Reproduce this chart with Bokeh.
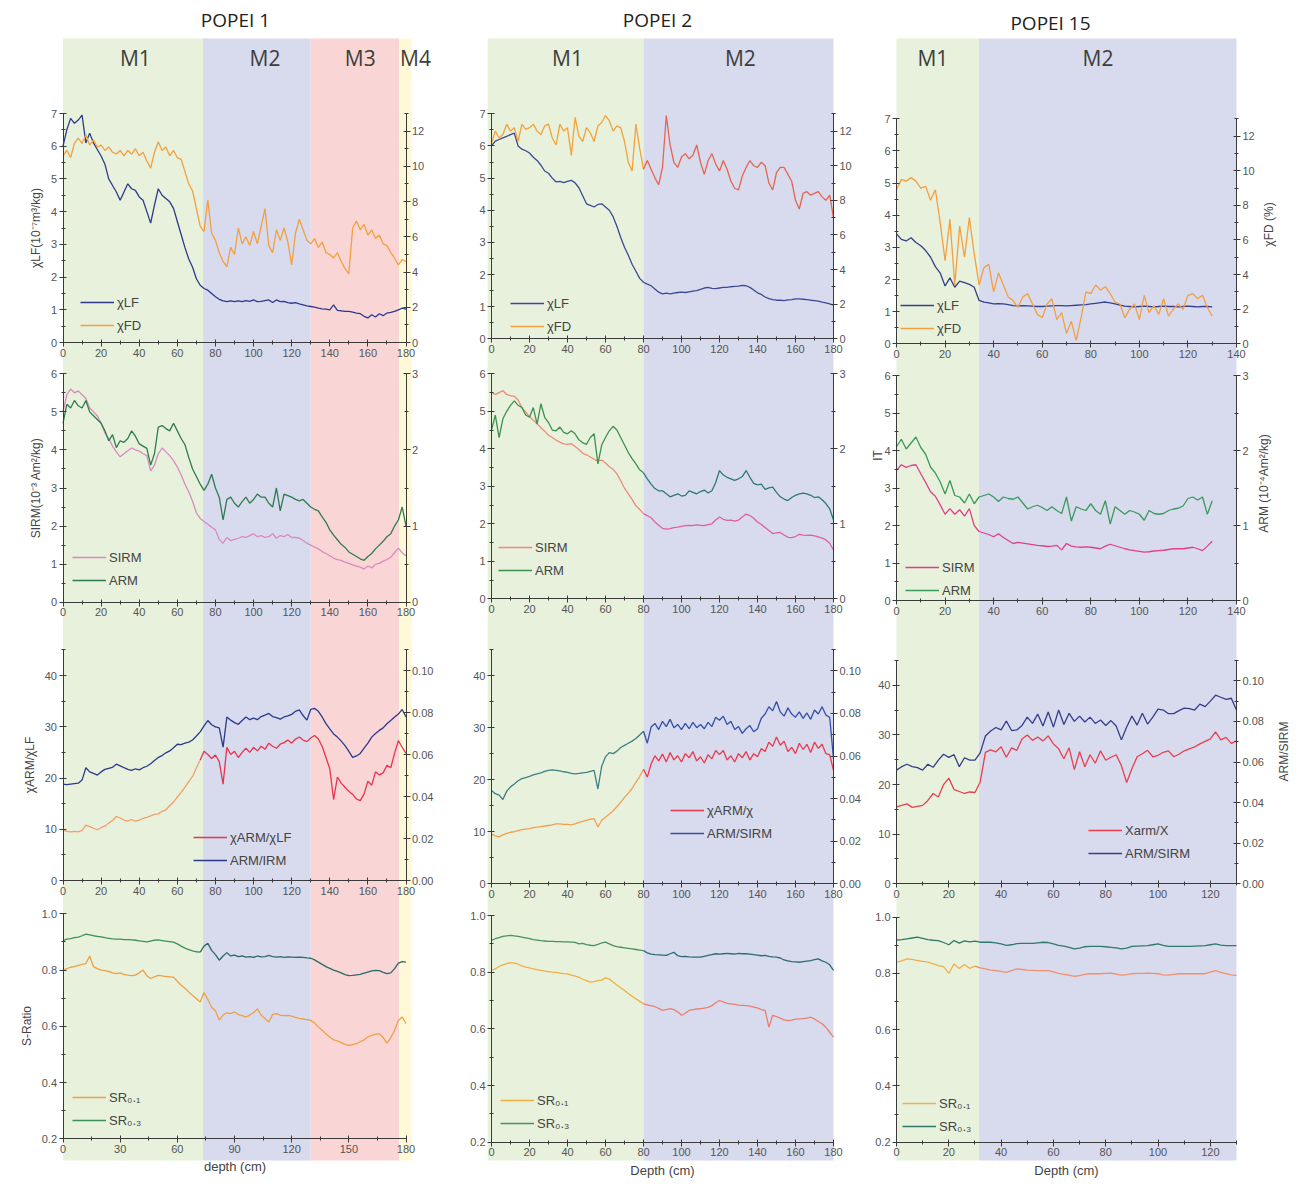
import math
from bokeh.plotting import figure
from bokeh.layouts import row
from bokeh.models import (Range1d, LinearAxis, SingleIntervalTicker, NumeralTickFormatter,
                          Label, Legend, LegendItem)
from bokeh.embed import file_html
from bokeh.resources import INLINE

# ---------------------------------------------------------------- data
# POPEI 1 core, sampled every 2 cm (0-180 cm)
P1_DEPTH = list(range(0, 181, 2))
P1_ZONES = ["M1", "M2", "M3", "M4"]
P1_ZONE_EDGES = [0, 73.5, 130, 176.5, 183]
P1_ZONE_LABEL_X = [38, 106, 156, 185]

P1_CHI_LF = [6.0, 6.5, 6.85, 6.7, 6.8, 6.95, 6.1, 6.4, 6.1, 5.9,
             5.7, 5.45, 5.0, 4.8, 4.6, 4.35, 4.6, 4.85, 4.7, 4.65,
             4.45, 4.35, 4.0, 3.65, 4.2, 4.7, 4.5, 4.4, 4.3, 4.1,
             3.7, 3.3, 2.9, 2.55, 2.3, 1.95, 1.75, 1.65, 1.6, 1.5,
             1.4, 1.32, 1.27, 1.25, 1.27, 1.25, 1.27, 1.25, 1.28, 1.26,
             1.3, 1.25, 1.26, 1.28, 1.3, 1.22, 1.3, 1.25, 1.26, 1.22,
             1.2, 1.22, 1.18, 1.15, 1.12, 1.1, 1.08, 1.05, 1.03, 1.02,
             1.0, 1.15, 0.98, 0.97, 0.95, 0.95, 0.93, 0.9, 0.88, 0.8,
             0.75, 0.85, 0.78, 0.88, 0.82, 0.9, 0.92, 0.95, 1.0, 1.05,
             1.02]
P1_CHI_FD = [10.6, 10.9, 10.5, 11.3, 11.6, 11.3, 11.8, 11.2, 11.5, 11.1,
             11.2, 10.9, 11.1, 10.8, 10.7, 10.9, 10.6, 10.9, 10.7, 11.0,
             10.6, 10.8, 10.3, 9.9, 10.8, 11.4, 10.9, 11.1, 10.6, 10.9,
             10.5, 10.4, 9.7, 9.0, 8.6, 7.6, 6.6, 6.3, 8.1, 6.2,
             5.8, 5.1, 4.6, 4.3, 5.4, 5.0, 6.5, 5.6, 6.0, 5.5,
             6.3, 5.6, 6.6, 7.6, 5.5, 5.1, 6.4, 5.8, 6.5, 5.7,
             4.4, 6.2, 7.0, 6.4, 5.8, 5.6, 5.9, 5.4, 5.7, 5.1,
             5.0, 4.8, 5.1, 4.6, 4.2, 3.9, 6.5, 6.9, 6.4, 6.7,
             6.1, 6.4, 5.9, 6.1, 5.6, 5.5, 5.1, 4.8, 4.4, 4.7,
             4.6]
P1_SIRM = [5.0, 5.45, 5.6, 5.5, 5.55, 5.45, 5.35, 5.1, 5.0, 4.9,
           4.7, 4.45, 4.3, 4.1, 3.95, 3.82, 3.9, 3.98, 4.05, 4.0,
           3.97, 3.9, 3.85, 3.45, 3.6, 3.9, 4.05, 3.95, 3.85, 3.72,
           3.55, 3.35, 3.1, 2.9, 2.65, 2.35, 2.2, 2.12, 2.05, 1.97,
           1.9, 1.65, 1.55, 1.7, 1.62, 1.65, 1.68, 1.72, 1.7, 1.75,
           1.8, 1.72, 1.75, 1.7, 1.72, 1.8, 1.68, 1.75, 1.72, 1.78,
           1.7, 1.7, 1.68, 1.62, 1.55, 1.5, 1.45, 1.4, 1.33, 1.28,
           1.22, 1.16, 1.12, 1.1, 1.05, 1.02, 0.98, 0.95, 0.92, 0.87,
           0.95, 0.9, 1.0, 1.02, 1.08, 1.12, 1.18, 1.3, 1.42, 1.3,
           1.22]
P1_ARM = [2.35, 2.6, 2.55, 2.65, 2.58, 2.55, 2.65, 2.5, 2.45, 2.4,
          2.35, 2.25, 2.12, 2.2, 2.03, 2.12, 2.1, 2.15, 2.25, 2.18,
          2.08, 2.05, 2.02, 1.8, 1.95, 2.3, 2.32, 2.28, 2.25, 2.35,
          2.25, 2.15, 2.07, 1.9, 1.75, 1.65, 1.55, 1.47, 1.55, 1.68,
          1.5, 1.38, 1.08, 1.35, 1.38, 1.3, 1.25, 1.32, 1.38, 1.3,
          1.35, 1.42, 1.38, 1.38, 1.3, 1.25, 1.5, 1.2, 1.42, 1.4,
          1.38, 1.35, 1.33, 1.35, 1.3, 1.25, 1.22, 1.2, 1.12, 1.05,
          0.95, 0.88, 0.82, 0.76, 0.72, 0.66, 0.63, 0.6, 0.57, 0.55,
          0.6, 0.64, 0.7, 0.75, 0.8, 0.86, 0.9, 1.0, 1.08, 1.25,
          1.0]
P1_CHIARM_CHILF = [9.8, 9.6, 9.5, 9.6, 9.5, 9.8, 10.8, 10.5, 10.2, 9.9,
                   10.3, 10.6, 11.2, 11.7, 12.5, 12.2, 11.8, 11.6, 11.9, 11.6,
                   11.8, 12.1, 12.3, 12.6, 12.9, 13.0, 13.5, 13.8, 14.6, 15.3,
                   16.3, 17.2, 18.2, 19.3, 20.3, 22.0, 23.5, 25.2, 24.6, 23.8,
                   24.5, 23.2, 18.8, 26.0, 24.6, 25.2, 24.0, 25.0, 25.8, 25.0,
                   26.0, 25.3, 26.2, 25.6, 26.8, 26.2, 25.8, 26.6, 26.9, 27.4,
                   26.8, 27.6, 28.0, 27.4, 27.1, 27.8, 28.3, 27.6, 26.2, 24.0,
                   21.8, 15.8, 20.2, 19.0, 18.2, 17.4, 16.8, 15.9, 15.6, 16.9,
                   19.4, 18.6, 21.2, 20.6, 21.0, 22.5, 22.0, 24.8, 27.3, 26.0,
                   24.8]
P1_ARM_IRM = [0.0460, 0.0457, 0.0460, 0.0462, 0.0464, 0.0479, 0.0538, 0.0518, 0.0511, 0.0503,
              0.0518, 0.0530, 0.0535, 0.0540, 0.0555, 0.0547, 0.0538, 0.0530, 0.0525, 0.0533,
              0.0528, 0.0538, 0.0545, 0.0557, 0.0572, 0.0587, 0.0596, 0.0609, 0.0618, 0.0633,
              0.0650, 0.0648, 0.0655, 0.0660, 0.0670, 0.0689, 0.0709, 0.0738, 0.0763, 0.0743,
              0.0733, 0.0728, 0.0636, 0.0780, 0.0765, 0.0753, 0.0745, 0.0763, 0.0780, 0.0767,
              0.0775, 0.0767, 0.0782, 0.0789, 0.0797, 0.0782, 0.0777, 0.0770, 0.0780, 0.0785,
              0.0792, 0.0807, 0.0814, 0.0787, 0.0765, 0.0816, 0.0821, 0.0807, 0.0780, 0.0748,
              0.0723, 0.0699, 0.0684, 0.0665, 0.0643, 0.0616, 0.0587, 0.0594, 0.0606, 0.0631,
              0.0655, 0.0684, 0.0701, 0.0716, 0.0728, 0.0748, 0.0763, 0.0780, 0.0794, 0.0816,
              0.0780]
P1_SR01 = [0.8, 0.805, 0.81, 0.812, 0.817, 0.82, 0.823, 0.85, 0.812, 0.805,
           0.8, 0.798, 0.795, 0.79, 0.787, 0.79, 0.785, 0.782, 0.78, 0.782,
           0.79, 0.8, 0.78, 0.77, 0.776, 0.781, 0.779, 0.777, 0.776, 0.775,
           0.76, 0.746, 0.735, 0.722, 0.71, 0.698, 0.686, 0.72, 0.695, 0.668,
           0.655, 0.622, 0.64, 0.648, 0.645, 0.651, 0.642, 0.638, 0.633, 0.64,
           0.648, 0.662, 0.64, 0.628, 0.615, 0.642, 0.645, 0.64, 0.638, 0.639,
           0.636, 0.632, 0.628, 0.626, 0.624, 0.621, 0.612, 0.598, 0.586, 0.573,
           0.562, 0.552, 0.548, 0.542, 0.536, 0.532, 0.535, 0.538, 0.545, 0.552,
           0.562, 0.568, 0.572, 0.574, 0.56, 0.54, 0.56, 0.585, 0.621, 0.633,
           0.61]
P1_SR03 = [0.905, 0.91, 0.912, 0.915, 0.917, 0.922, 0.928, 0.925, 0.922, 0.92,
           0.918, 0.915, 0.913, 0.911, 0.91, 0.91, 0.908, 0.908, 0.907, 0.906,
           0.904, 0.902, 0.9, 0.903, 0.906, 0.907, 0.905, 0.903, 0.901, 0.899,
           0.893, 0.885, 0.878, 0.873, 0.868, 0.865, 0.864, 0.885, 0.895, 0.87,
           0.855, 0.835, 0.85, 0.862, 0.85, 0.853, 0.848, 0.85, 0.846, 0.848,
           0.845, 0.85, 0.847, 0.848, 0.852, 0.848, 0.846, 0.848, 0.845, 0.847,
           0.846, 0.845, 0.846, 0.845, 0.843, 0.842, 0.836, 0.828, 0.82, 0.812,
           0.806, 0.8, 0.795, 0.79, 0.784, 0.78, 0.781, 0.783, 0.785, 0.789,
           0.793, 0.797, 0.799, 0.798, 0.792, 0.787, 0.79, 0.805, 0.825, 0.83,
           0.828]

# POPEI 2 core, sampled every 2 cm (0-180 cm)
P2_DEPTH = list(range(0, 181, 2))
P2_ZONES = ["M1", "M2"]
P2_ZONE_EDGES = [-2, 80, 180]
P2_ZONE_LABEL_X = [40, 131]

P2_CHI_LF = [6.0, 6.15, 6.2, 6.25, 6.3, 6.35, 6.4, 6.0, 5.9, 5.85,
             5.78, 5.65, 5.55, 5.4, 5.22, 5.15, 5.0, 4.88, 4.9, 4.86,
             4.9, 4.93, 4.85, 4.7, 4.45, 4.2, 4.15, 4.1, 4.18, 4.2,
             4.1, 4.0, 3.8, 3.5, 3.15, 2.85, 2.6, 2.32, 2.1, 1.88,
             1.76, 1.7, 1.65, 1.55, 1.45, 1.4, 1.42, 1.4, 1.42, 1.44,
             1.45, 1.44, 1.46, 1.48, 1.5, 1.54, 1.58, 1.6, 1.57, 1.56,
             1.58, 1.6, 1.6, 1.62, 1.63, 1.64, 1.66, 1.65, 1.6, 1.52,
             1.43, 1.38, 1.3, 1.25, 1.22, 1.2, 1.2, 1.19, 1.21, 1.22,
             1.24, 1.24, 1.23, 1.22, 1.2, 1.19, 1.17, 1.14, 1.12, 1.09,
             1.05]
P2_CHI_FD = [11.3, 12.0, 11.6, 11.8, 12.4, 12.0, 12.2, 11.4, 12.4, 12.1,
             12.2, 12.4, 12.0, 11.8, 12.3, 12.4, 11.6, 11.2, 12.4, 12.0,
             12.2, 10.6, 12.8, 11.7, 11.4, 12.2, 11.9, 11.4, 12.3, 12.5,
             12.9, 12.6, 12.0, 12.3, 12.2, 11.4, 10.2, 9.7, 12.4, 11.0,
             9.8, 10.3, 9.8, 9.3, 8.9, 9.9, 12.9, 11.2, 10.2, 9.9,
             10.5, 10.7, 10.4, 10.6, 11.2, 10.2, 9.5, 10.3, 10.7, 10.1,
             9.7, 10.3, 9.8, 9.1, 8.7, 8.6, 9.4, 9.9, 10.3, 10.0,
             9.9, 10.2, 10.0, 9.0, 8.6, 9.6, 9.9, 9.9, 9.5, 9.1,
             8.0, 7.5, 8.4, 8.5, 8.3, 8.4, 8.5, 8.2, 8.0, 8.3,
             7.0]
P2_SIRM = [5.5, 5.45, 5.5, 5.55, 5.45, 5.42, 5.4, 5.3, 5.1, 4.98,
           4.86, 4.76, 4.67, 4.56, 4.47, 4.36, 4.3, 4.23, 4.18, 4.13,
           4.12, 4.14, 4.06, 3.98, 3.88, 3.84, 3.78, 3.72, 3.68, 3.7,
           3.62, 3.52, 3.45, 3.33, 3.15, 2.95, 2.8, 2.65, 2.48, 2.38,
           2.27, 2.22, 2.16, 2.05, 1.96, 1.88, 1.86, 1.87, 1.9, 1.91,
           1.93, 1.95, 1.96, 1.95, 1.97, 1.96, 1.95, 1.98, 2.0, 2.1,
           2.18, 2.12, 2.09, 2.1, 2.07, 2.1, 2.18, 2.26, 2.22, 2.15,
           2.05, 1.98, 1.9, 1.82, 1.74, 1.76, 1.77, 1.7, 1.64, 1.63,
           1.66, 1.72, 1.7, 1.69, 1.7, 1.68, 1.65, 1.62, 1.57, 1.48,
           1.3]
P2_ARM = [2.25, 2.45, 2.15, 2.4, 2.5, 2.58, 2.64, 2.58, 2.55, 2.45,
          2.42, 2.55, 2.33, 2.6, 2.42, 2.35, 2.25, 2.24, 2.29, 2.22,
          2.2, 2.24, 2.2, 2.12, 2.08, 2.06, 2.15, 2.2, 1.8, 2.05,
          2.15, 2.24, 2.3, 2.25, 2.15, 2.05, 1.95, 1.87, 1.8, 1.72,
          1.68, 1.6, 1.53, 1.47, 1.44, 1.44, 1.4, 1.36, 1.38, 1.4,
          1.37, 1.38, 1.44, 1.42, 1.4, 1.43, 1.45, 1.41, 1.44, 1.55,
          1.71, 1.65, 1.62, 1.6, 1.58, 1.6, 1.63, 1.71, 1.62, 1.54,
          1.52, 1.53, 1.46, 1.48, 1.49, 1.42, 1.36, 1.33, 1.31, 1.35,
          1.38, 1.4, 1.41, 1.4, 1.38, 1.35, 1.36, 1.32, 1.27, 1.2,
          1.05]
P2_CHIARM_CHI = [9.6, 9.2, 9.0, 9.4, 9.7, 9.9, 10.0, 10.2, 10.4, 10.5,
                 10.6, 10.8, 10.9, 11.0, 11.1, 11.2, 11.3, 11.5, 11.5, 11.4,
                 11.4, 11.3, 11.5, 11.8, 12.0, 12.2, 12.4, 12.5, 10.9, 12.2,
                 12.8, 13.4, 14.0, 14.8, 15.7, 16.6, 17.4, 18.3, 19.5, 20.6,
                 22.0, 20.5, 23.0, 24.6, 23.6, 24.9, 23.4, 25.2, 23.8, 24.6,
                 23.4, 25.0, 24.2, 25.4, 23.6, 24.4, 23.2, 24.8, 24.0, 25.6,
                 24.8, 25.6, 23.8, 24.6, 23.4, 25.0, 24.2, 25.4, 23.8, 25.0,
                 24.4, 26.0, 25.4, 27.2, 26.4, 28.2, 26.6, 27.4, 25.4, 26.2,
                 25.0, 27.0, 25.8, 26.8, 25.2, 27.2, 26.0, 26.8, 25.0, 24.8,
                 21.8]
P2_ARM_SIRM = [0.0438, 0.0423, 0.0416, 0.0396, 0.0435, 0.0455, 0.0469, 0.0484, 0.0494, 0.0499,
               0.0504, 0.0511, 0.0516, 0.0521, 0.0528, 0.0533, 0.0535, 0.0533, 0.0530, 0.0526,
               0.0523, 0.0518, 0.0516, 0.0518, 0.0521, 0.0523, 0.0528, 0.0533, 0.0445, 0.0552,
               0.0596, 0.0616, 0.0611, 0.0623, 0.0640, 0.0650, 0.0660, 0.0670, 0.0682, 0.0699,
               0.0716, 0.0660, 0.0736, 0.0753, 0.0724, 0.0763, 0.0738, 0.0772, 0.0733, 0.0748,
               0.0724, 0.0753, 0.0728, 0.0758, 0.0733, 0.0748, 0.0728, 0.0758, 0.0738, 0.0782,
               0.0768, 0.0787, 0.0748, 0.0763, 0.0724, 0.0738, 0.0706, 0.0728, 0.0743, 0.0714,
               0.0728, 0.0777, 0.0797, 0.0831, 0.0812, 0.0856, 0.0807, 0.0787, 0.0826, 0.0797,
               0.0782, 0.0807, 0.0777, 0.0802, 0.0772, 0.0816, 0.0797, 0.0831, 0.0792, 0.0782,
               0.0587]
P2_SR01 = [0.806, 0.812, 0.82, 0.826, 0.83, 0.834, 0.832, 0.828, 0.822, 0.818,
           0.815, 0.812, 0.809, 0.806, 0.804, 0.802, 0.8, 0.799, 0.797, 0.795,
           0.794, 0.79, 0.786, 0.782, 0.775, 0.77, 0.765, 0.767, 0.77, 0.772,
           0.78, 0.776, 0.765, 0.755, 0.745, 0.735, 0.725, 0.715, 0.706, 0.697,
           0.688, 0.685, 0.682, 0.678, 0.672, 0.665, 0.668, 0.671, 0.668, 0.66,
           0.648, 0.655, 0.665, 0.668, 0.67, 0.671, 0.673, 0.676, 0.682, 0.692,
           0.7, 0.695, 0.69, 0.688, 0.686, 0.684, 0.683, 0.682, 0.68, 0.677,
           0.674, 0.668, 0.665, 0.606, 0.648, 0.643, 0.638, 0.632, 0.629, 0.631,
           0.634, 0.635, 0.636, 0.638, 0.641, 0.635, 0.626, 0.618, 0.605, 0.588,
           0.571]
P2_SR03 = [0.912, 0.918, 0.922, 0.926, 0.928, 0.93, 0.928, 0.926, 0.924, 0.921,
           0.918, 0.915, 0.913, 0.911, 0.91, 0.909, 0.909, 0.908, 0.908, 0.907,
           0.907, 0.906, 0.905, 0.9, 0.902, 0.897, 0.895, 0.894, 0.898, 0.903,
           0.906, 0.9, 0.894, 0.89, 0.888, 0.886, 0.884, 0.882, 0.88, 0.878,
           0.876, 0.868, 0.864, 0.862, 0.861, 0.86, 0.859, 0.865, 0.87, 0.858,
           0.855, 0.856, 0.854, 0.853, 0.853, 0.853, 0.856, 0.859, 0.862, 0.865,
           0.864, 0.865, 0.866, 0.865, 0.864, 0.866, 0.865, 0.865, 0.864, 0.862,
           0.86, 0.858, 0.859, 0.856, 0.854, 0.853, 0.85, 0.843, 0.84, 0.837,
           0.836, 0.835, 0.837, 0.839, 0.841, 0.844, 0.847, 0.84, 0.835, 0.826,
           0.806]

# POPEI 15 core, sampled every 2 cm (0-130 cm)
P15_DEPTH = list(range(0, 131, 2))
P15_ZONES = ["M1", "M2"]
P15_ZONE_EDGES = [0, 34, 140]
P15_ZONE_LABEL_X = [15, 83]

P15_CHI_LF = [3.42, 3.25, 3.2, 3.3, 3.15, 3.05, 2.9, 2.7, 2.4, 2.2,
              1.8, 2.05, 1.76, 1.95, 1.9, 1.85, 1.76, 1.35, 1.3, 1.27,
              1.24, 1.25, 1.24, 1.22, 1.19, 1.18, 1.19, 1.18, 1.17, 1.16,
              1.16, 1.17, 1.18, 1.19, 1.19, 1.18, 1.19, 1.2, 1.21, 1.22,
              1.24, 1.26, 1.28, 1.3, 1.27, 1.24, 1.2, 1.17, 1.16, 1.15,
              1.16, 1.17, 1.16, 1.15, 1.16, 1.17, 1.16, 1.16, 1.15, 1.16,
              1.17, 1.16, 1.15, 1.16, 1.16, 1.15]
P15_CHI_FD = [8.9, 9.5, 9.4, 9.6, 9.4, 9.0, 9.1, 8.3, 8.9, 7.0,
              4.8, 7.2, 3.4, 6.8, 5.0, 7.3, 5.2, 3.4, 4.4, 4.6,
              3.0, 4.1, 3.4, 2.7, 2.5, 2.1, 2.7, 2.9, 2.3, 1.7,
              1.5, 2.3, 2.6, 1.4, 1.8, 0.6, 1.3, 0.2, 1.5, 3.0,
              2.9, 3.4, 3.1, 3.3, 2.9, 2.4, 2.3, 1.5, 2.0, 2.3,
              1.4, 2.8, 1.8, 2.2, 1.7, 2.6, 1.6, 2.0, 2.3, 2.0,
              2.8, 2.9, 2.6, 2.8, 2.1, 1.6]
P15_SIRM = [3.47, 3.62, 3.55, 3.6, 3.62, 3.38, 3.15, 2.9, 2.78, 2.55,
            2.3, 2.45, 2.3, 2.42, 2.25, 2.45, 2.0, 1.84, 1.8, 1.76,
            1.7, 1.78, 1.68, 1.6, 1.52, 1.55, 1.53, 1.51, 1.49, 1.47,
            1.46, 1.44, 1.45, 1.47, 1.35, 1.52, 1.45, 1.43, 1.42, 1.43,
            1.42, 1.4, 1.38, 1.45, 1.5, 1.46, 1.42, 1.38, 1.35, 1.33,
            1.31, 1.29, 1.3, 1.32, 1.33, 1.34, 1.36, 1.38, 1.38, 1.38,
            1.4, 1.42, 1.38, 1.33, 1.45, 1.58]
P15_ARM = [2.05, 2.15, 2.02, 2.1, 2.18, 2.04, 1.95, 1.78, 1.7, 1.58,
           1.42, 1.6, 1.4, 1.38, 1.3, 1.42, 1.29, 1.38, 1.4, 1.42,
           1.38, 1.32, 1.38, 1.36, 1.35, 1.38, 1.3, 1.22, 1.25, 1.27,
           1.24, 1.2, 1.25, 1.2, 1.16, 1.38, 1.06, 1.25, 1.22, 1.2,
           1.29, 1.2, 1.15, 1.33, 1.02, 1.25, 1.2, 1.15, 1.2, 1.18,
           1.15, 1.07, 1.2, 1.16, 1.15, 1.16, 1.2, 1.22, 1.23, 1.26,
           1.36, 1.38, 1.34, 1.38, 1.15, 1.33]
P15_CHIARM_CHI = [15.5, 15.8, 16.1, 15.4, 15.6, 15.8, 16.8, 18.2, 17.5, 20.0,
                  21.3, 19.0, 18.6, 18.2, 18.5, 18.4, 20.5, 26.5, 27.0, 26.6,
                  27.6, 25.5, 27.4, 26.9, 29.2, 30.0, 28.9, 29.6, 28.8, 29.8,
                  28.2, 27.2, 25.2, 27.4, 23.0, 26.6, 23.6, 26.0, 24.3, 26.8,
                  24.9, 25.5, 26.0, 23.8, 20.4, 23.2, 25.6, 26.2, 26.9, 25.6,
                  25.9, 26.5, 26.8, 25.6, 26.1, 26.8, 27.2, 27.6, 28.2, 28.7,
                  29.2, 30.6, 29.0, 29.5, 28.3, 28.8]
P15_ARM_SIRM = [0.0560, 0.0577, 0.0589, 0.0577, 0.0572, 0.0560, 0.0589, 0.0574, 0.0609, 0.0638,
                0.0623, 0.0636, 0.0577, 0.0621, 0.0609, 0.0609, 0.0645, 0.0728, 0.0753, 0.0770,
                0.0758, 0.0802, 0.0755, 0.0758, 0.0780, 0.0821, 0.0790, 0.0836, 0.0777, 0.0846,
                0.0772, 0.0856, 0.0785, 0.0840, 0.0800, 0.0826, 0.0797, 0.0821, 0.0790, 0.0807,
                0.0780, 0.0804, 0.0777, 0.0709, 0.0772, 0.0826, 0.0782, 0.0840, 0.0787, 0.0821,
                0.0860, 0.0856, 0.0838, 0.0838, 0.0853, 0.0865, 0.0863, 0.0856, 0.0885, 0.0873,
                0.0900, 0.0929, 0.0919, 0.0909, 0.0914, 0.0856]
P15_SR01 = [0.84, 0.845, 0.852, 0.85, 0.846, 0.843, 0.84, 0.834, 0.828, 0.824,
            0.8, 0.834, 0.818, 0.832, 0.818, 0.826, 0.82, 0.816, 0.812, 0.81,
            0.807, 0.804, 0.81, 0.816, 0.814, 0.812, 0.811, 0.81, 0.81, 0.81,
            0.806, 0.8, 0.797, 0.794, 0.79, 0.792, 0.797, 0.799, 0.799, 0.799,
            0.8, 0.801, 0.798, 0.794, 0.796, 0.799, 0.8, 0.8, 0.801, 0.8,
            0.799, 0.795, 0.794, 0.797, 0.799, 0.799, 0.799, 0.799, 0.799, 0.799,
            0.805, 0.81, 0.804, 0.799, 0.795, 0.793]
P15_SR03 = [0.919, 0.92, 0.923, 0.926, 0.929, 0.925, 0.92, 0.918, 0.917, 0.91,
            0.902, 0.917, 0.908, 0.916, 0.912, 0.915, 0.911, 0.911, 0.911, 0.909,
            0.905, 0.9, 0.902, 0.906, 0.907, 0.907, 0.907, 0.909, 0.911, 0.91,
            0.905, 0.9, 0.897, 0.893, 0.887, 0.89, 0.895, 0.896, 0.896, 0.896,
            0.895, 0.893, 0.891, 0.887, 0.89, 0.896, 0.897, 0.898, 0.899, 0.902,
            0.905, 0.9, 0.896, 0.896, 0.896, 0.896, 0.896, 0.897, 0.898, 0.899,
            0.902, 0.905, 0.901, 0.899, 0.899, 0.899]

# ---------------------------------------------------------------- look
H = 1192                          # canvas height of every column
BAND_TOP, BAND_BOTTOM = 38, 1160  # vertical extent of the zone shading (px from top)
FONT = "Liberation Sans"
HEAD_FONT = "Open Sans"
AXIS_COLOR = "#3a3a3a"
TICK_TEXT = "#555555"
ZONE_COLORS = {"M1": "#e8f1dc", "M2": "#d8daed", "M3": "#fad5d6", "M4": "#fff9d8"}

# shared scales of the four rows (left axis, right axis)
ROW_SCALES = [
    {"left": (0, 7), "right": (0, 13), "lstep": 1, "rstep": 2, "lfmt": "0", "rfmt": "0"},
    {"left": (0, 6), "right": (0, 3), "lstep": 1, "rstep": 1, "lfmt": "0", "rfmt": "0"},
    {"left": (0, 45), "right": (0, 0.11), "lstep": 10, "rstep": 0.02, "lfmt": "0", "rfmt": "0.00"},
    {"left": (0.2, 1.0), "right": None, "lstep": 0.2, "rstep": None, "lfmt": "0.0", "rfmt": None},
]


def ser(y, axis, colors, label, cut=None, key=0):
    return {"y": y, "axis": axis, "colors": colors, "label": label, "cut": cut, "key": key}


COLUMNS = [
    {
        "title": "POPEI 1", "title_px": (235, 19), "width": 450,
        "x_px": (62.5, 405.5), "xmax": 180, "alt_xmax": None,
        "zones": P1_ZONES, "edges": P1_ZONE_EDGES, "zone_label_x": P1_ZONE_LABEL_X,
        "depth": P1_DEPTH, "side_labels": [],
        "rows": [
            {"px": (342, 113), "x": "default", "xend": 180, "xstep": 20, "legend": (80, 302),
             "llabel": "χLF(10⁻⁷m³/kg)",
             "series": [ser(P1_CHI_LF, "L", ("#2d3a8c",), "χLF"),
                        ser(P1_CHI_FD, "R", ("#f3a03e",), "χFD")]},
            {"px": (601.7, 373.3), "x": "default", "xend": 180, "xstep": 20, "legend": (72, 557),
             "llabel": "SIRM(10⁻³ Am²/kg)",
             "series": [ser(P1_SIRM, "L", ("#d88cbe",), "SIRM"),
                        ser(P1_ARM, "R", ("#2e7d4f",), "ARM")]},
            {"px": (880, 649.4), "x": "default", "xend": 180, "xstep": 20, "legend": (193, 837),
             "llabel": "χARM/χLF",
             "series": [ser(P1_CHIARM_CHILF, "L", ("#f2a06a", "#e8344e"), "χARM/χLF", cut=73.5, key=1),
                        ser(P1_ARM_IRM, "R", ("#2b3a8a",), "ARM/IRM")]},
            {"px": (1138.3, 913.3), "x": "default", "xend": 180, "xstep": 30, "legend": (72, 1097),
             "llabel": "S-Ratio", "xlabel": "depth (cm)",
             "series": [ser(P1_SR01, "L", ("#eea046",), "SR₀.₁"),
                        ser(P1_SR03, "L", ("#3f8f5a", "#2f6a66"), "SR₀.₃", cut=73.5)]},
        ],
    },
    {
        "title": "POPEI 2", "title_px": (657, 19), "width": 420,
        "x_px": (41, 383), "xmax": 180, "alt_xmax": None,
        "zones": P2_ZONES, "edges": P2_ZONE_EDGES, "zone_label_x": P2_ZONE_LABEL_X,
        "depth": P2_DEPTH, "side_labels": [],
        "rows": [
            {"px": (338.3, 113.3), "x": "default", "xend": 180, "xstep": 20, "legend": (510, 303),
             "series": [ser(P2_CHI_LF, "L", ("#3b4a92",), "χLF"),
                        ser(P2_CHI_FD, "R", ("#f4a23a", "#e5654f"), "χFD", cut=80)]},
            {"px": (598.3, 373.3), "x": "default", "xend": 180, "xstep": 20, "legend": (498, 547),
             "series": [ser(P2_SIRM, "L", ("#ef8c78", "#e0609e"), "SIRM", cut=80),
                        ser(P2_ARM, "R", ("#3d9050", "#2f7a6e"), "ARM", cut=80)]},
            {"px": (883.3, 649), "x": "default", "xend": 180, "xstep": 20, "legend": (670, 810),
             "series": [ser(P2_CHIARM_CHI, "L", ("#f2a050", "#e83a4a"), "χARM/χ", cut=80, key=1),
                        ser(P2_ARM_SIRM, "R", ("#3f7f86", "#3450a6"), "ARM/SIRM", cut=80, key=1)]},
            {"px": (1141.7, 915), "x": "default", "xend": 180, "xstep": 20, "legend": (500, 1100),
             "xlabel": "Depth (cm)",
             "series": [ser(P2_SR01, "L", ("#f0b040", "#ec7f70"), "SR₀.₁", cut=80),
                        ser(P2_SR03, "L", ("#4a9060", "#2f6a7a"), "SR₀.₃", cut=80)]},
        ],
    },
    {
        "title": "POPEI 15", "title_px": (1050, 22), "width": 433,
        "x_px": (26, 366), "xmax": 140, "alt_xmax": 130,
        "zones": P15_ZONES, "edges": P15_ZONE_EDGES, "zone_label_x": P15_ZONE_LABEL_X,
        "depth": P15_DEPTH,
        "side_labels": [("χFD (%)", 1268, 224), ("IT", 877, 455),
                        ("ARM (10⁻⁴Am²/kg)", 1263, 483), ("ARM/SIRM", 1283, 751)],
        "rows": [
            {"px": (343.3, 118.3), "x": "default", "xend": 140, "xstep": 20, "legend": (900, 305),
             "series": [ser(P15_CHI_LF, "L", ("#34408c",), "χLF"),
                        ser(P15_CHI_FD, "R", ("#f3a043",), "χFD")]},
            {"px": (600, 375), "x": "default", "xend": 140, "xstep": 20, "legend": (905, 567),
             "series": [ser(P15_SIRM, "L", ("#e0408a",), "SIRM"),
                        ser(P15_ARM, "R", ("#3a9a5a",), "ARM")]},
            {"px": (883.3, 660), "x": "alt", "xend": 130, "xstep": 20, "legend": (1088, 830),
             "series": [ser(P15_CHIARM_CHI, "L", ("#e8404f",), "Xarm/X"),
                        ser(P15_ARM_SIRM, "R", ("#343e8a",), "ARM/SIRM")]},
            {"px": (1141.7, 916.7), "x": "alt", "xend": 130, "xstep": 20, "legend": (902, 1103),
             "xlabel": "Depth (cm)",
             "series": [ser(P15_SR01, "L", ("#f0b050", "#f2906a"), "SR₀.₁", cut=31),
                        ser(P15_SR03, "L", ("#2f7a68",), "SR₀.₃")]},
        ],
    },
]


# ---------------------------------------------------------------- helpers
def pixel_range(vmin, vmax, ybot, ytop):
    """Range whose vmin..vmax span sits between the given rows of the canvas."""
    b, t = H - ybot, H - ytop
    s = (vmax - vmin) / (t - b)
    return Range1d(vmin - b * s, vmin + (H - b) * s)


def style_axis(ax, label=None):
    ax.axis_line_color = AXIS_COLOR
    ax.major_tick_line_color = AXIS_COLOR
    ax.minor_tick_line_color = AXIS_COLOR
    ax.major_tick_in = 3
    ax.major_tick_out = 4
    ax.minor_tick_in = 2
    ax.minor_tick_out = 2
    ax.major_label_text_font = FONT
    ax.major_label_text_font_size = "11px"
    ax.major_label_text_color = TICK_TEXT
    ax.major_label_standoff = 2
    if label:
        ax.axis_label = label
        ax.axis_label_text_font = FONT
        ax.axis_label_text_font_size = "12px"
        ax.axis_label_text_font_style = "normal"
        ax.axis_label_text_color = "#444444"
        ax.axis_label_standoff = 5
    return ax


def draw_series(p, x, y, colors, cut, **kw):
    if len(x) != len(y):
        raise ValueError("series length %d does not match depth length %d" % (len(y), len(x)))
    if cut is None or len(colors) == 1:
        return [p.line(x, y, line_color=colors[0], line_width=1.3, **kw)]
    i = max(k for k, v in enumerate(x) if v <= cut)
    r1 = p.line(x[:i + 1], y[:i + 1], line_color=colors[0], line_width=1.3, **kw)
    r2 = p.line(x[i:], y[i:], line_color=colors[1], line_width=1.3, **kw)
    return [r1, r2]


def build_column(col, offset):
    w = col["width"]
    x0, x1 = col["x_px"]
    sx = (x1 - x0) / col["xmax"]
    p = figure(width=w, height=H, x_range=Range1d(-x0 / sx, (w - x0) / sx),
               y_range=Range1d(0, H), x_axis_location=None, y_axis_location=None,
               toolbar_location=None, title=None, output_backend="svg",
               min_border_left=0, min_border_right=0, min_border_top=0, min_border_bottom=0,
               outline_line_color=None, background_fill_color="white",
               border_fill_color="white")
    p.grid.visible = False

    def to_x(page_x):
        return (page_x - offset - x0) / sx

    if col["alt_xmax"]:
        sa = (x1 - x0) / col["alt_xmax"]
        p.extra_x_ranges = {"alt": Range1d(-x0 / sa, (w - x0) / sa)}

    # depth zones
    edges = col["edges"]
    p.quad(left=edges[:-1], right=edges[1:], bottom=H - BAND_BOTTOM, top=H - BAND_TOP,
           fill_color=[ZONE_COLORS[z] for z in col["zones"]], line_color=None)
    for z, zx in zip(col["zones"], col["zone_label_x"]):
        p.add_layout(Label(x=zx, y=H - 57, text=z, text_align="center", text_baseline="middle",
                           text_font=HEAD_FONT, text_font_size="21px", text_color="#3d3d3d"))
    tx, ty = col["title_px"]
    p.add_layout(Label(x=to_x(tx), y=H - ty, text=col["title"], text_align="center",
                       text_baseline="middle", text_font=HEAD_FONT, text_font_size="19px",
                       text_color="#222222"))

    yranges = {}
    for r, (sc, rs) in enumerate(zip(ROW_SCALES, col["rows"])):
        yranges["r%dL" % r] = pixel_range(sc["left"][0], sc["left"][1], *rs["px"])
        if sc["right"]:
            yranges["r%dR" % r] = pixel_range(sc["right"][0], sc["right"][1], *rs["px"])
    p.extra_y_ranges = yranges

    depth = col["depth"]
    for r, (sc, rs) in enumerate(zip(ROW_SCALES, col["rows"])):
        lname, rname = "r%dL" % r, "r%dR" % r
        la = LinearAxis(y_range_name=lname, fixed_location=0, bounds=sc["left"],
                        ticker=SingleIntervalTicker(interval=sc["lstep"], num_minor_ticks=2),
                        formatter=NumeralTickFormatter(format=sc["lfmt"]))
        p.add_layout(style_axis(la, rs.get("llabel")), "left")
        if sc["right"]:
            ra = LinearAxis(y_range_name=rname, fixed_location=col["xmax"], bounds=sc["right"],
                            ticker=SingleIntervalTicker(interval=sc["rstep"], num_minor_ticks=2),
                            formatter=NumeralTickFormatter(format=sc["rfmt"]))
            p.add_layout(style_axis(ra), "right")
        xa = LinearAxis(x_range_name=rs["x"], y_range_name=lname, fixed_location=sc["left"][0],
                        bounds=(0, rs["xend"]),
                        ticker=SingleIntervalTicker(interval=rs["xstep"], num_minor_ticks=2),
                        formatter=NumeralTickFormatter(format="0"))
        style_axis(xa, rs.get("xlabel"))
        if rs.get("xlabel"):
            xa.axis_label_text_font_size = "13px"
            xa.axis_label_standoff = 3
        p.add_layout(xa, "below")

        items = []
        for s in rs["series"]:
            yname = lname if s["axis"] == "L" else rname
            rends = draw_series(p, depth, s["y"], s["colors"], s["cut"],
                                x_range_name=rs["x"], y_range_name=yname)
            items.append(LegendItem(label=s["label"], renderers=[rends[min(s["key"], len(rends) - 1)]]))
        lx, ly = rs["legend"]
        p.add_layout(Legend(items=items, location=(lx - offset, H - ly - 33),
                            border_line_color=None, background_fill_alpha=0,
                            label_text_font=FONT, label_text_font_size="13px",
                            label_text_color="#444444", glyph_width=34, glyph_height=20,
                            label_height=20, label_standoff=3, spacing=3, padding=0, margin=0))

    for text, px_, py_ in col["side_labels"]:
        p.add_layout(Label(x=to_x(px_), y=H - py_, text=text, angle=math.pi / 2,
                           text_align="center", text_baseline="middle", text_font=FONT,
                           text_font_size="12px", text_color="#444444"))
    return p


figs = []
offset = 0
for col in COLUMNS:
    figs.append(build_column(col, offset))
    offset += col["width"]

layout = row(*figs, spacing=0)
open("out.html", "w").write(file_html(layout, INLINE))
